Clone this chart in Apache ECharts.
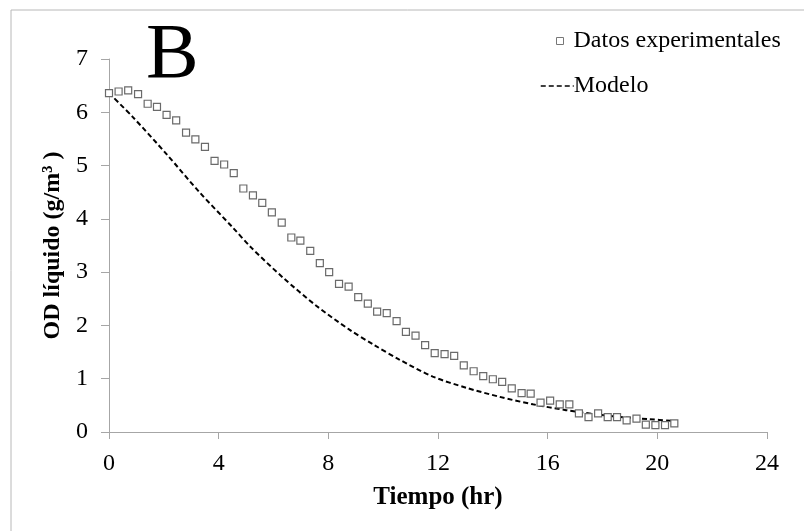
<!DOCTYPE html>
<html>
<head>
<meta charset="utf-8">
<script src="https://cdn.jsdelivr.net/npm/echarts@6/dist/echarts.min.js"></script>
<style>
html,body{margin:0;padding:0;background:#fff;}
#chart{width:804px;height:531px;}
</style>
</head>
<body>
<div id="chart"></div>
<script>
// Experimental data: time (hr) and OD liquid (g/m3)
const expTime = [0, 0.35, 0.70, 1.06, 1.41, 1.75, 2.10, 2.45, 2.81, 3.15,
  3.50, 3.85, 4.20, 4.55, 4.90, 5.25, 5.59, 5.94, 6.30, 6.65,
  6.98, 7.34, 7.69, 8.03, 8.39, 8.74, 9.09, 9.44, 9.78, 10.13,
  10.49, 10.83, 11.18, 11.53, 11.88, 12.24, 12.59, 12.94, 13.30, 13.65,
  14.00, 14.34, 14.69, 15.05, 15.38, 15.74, 16.09, 16.44, 16.79, 17.14,
  17.49, 17.84, 18.19, 18.53, 18.88, 19.24, 19.58, 19.93, 20.28, 20.62];
const expOD = [6.36, 6.39, 6.41, 6.34, 6.16, 6.10, 5.95, 5.85, 5.62, 5.49,
  5.35, 5.09, 5.02, 4.86, 4.57, 4.44, 4.30, 4.12, 3.93, 3.65,
  3.59, 3.40, 3.17, 3.00, 2.78, 2.73, 2.53, 2.41, 2.26, 2.23,
  2.08, 1.88, 1.81, 1.63, 1.48, 1.46, 1.43, 1.25, 1.14, 1.05,
  0.99, 0.94, 0.82, 0.73, 0.72, 0.55, 0.59, 0.52, 0.52, 0.35,
  0.28, 0.35, 0.28, 0.28, 0.22, 0.25, 0.14, 0.13, 0.13, 0.16];
// Model curve
const modelTime = [0, 0.87, 2.09, 3.30, 4.51, 5.19, 6.34, 7.56, 8.77, 9.68,
  10.59, 11.81, 13.03, 14.25, 15.46, 16.67, 17.77, 18.50, 19.71, 20.56];
const modelOD = [6.36, 5.91, 5.22, 4.50, 3.84, 3.46, 2.90, 2.37, 1.92, 1.63,
  1.36, 1.04, 0.83, 0.66, 0.52, 0.41, 0.33, 0.29, 0.24, 0.21];
const xTicks = [0, 4, 8, 12, 16, 20, 24];
const yTicks = [0, 1, 2, 3, 4, 5, 6, 7];
const seriesNames = ['Datos experimentales', 'Modelo'];
const xTitle = 'Tiempo (hr)';
const yTitle = 'OD líquido (g/m³ )';
const panelLabel = 'B';

const FONT = '"Liberation Serif", "Times New Roman", serif';
const axisGray = '#a6a6a6';

const chart = echarts.init(document.getElementById('chart'), null, {renderer: 'canvas'});
chart.setOption({
  backgroundColor: '#ffffff',
  animation: false,
  textStyle: {fontFamily: FONT, color: '#000'},
  grid: {left: 109, right: 37, top: 59, bottom: 99, containLabel: false},
  graphic: [
    {type: 'line', shape: {x1: 11, y1: 10, x2: 804, y2: 10}, style: {stroke: '#b8b8b8', lineWidth: 1}},
    {type: 'line', shape: {x1: 11, y1: 10, x2: 11, y2: 531}, style: {stroke: '#b8b8b8', lineWidth: 1}},
    {type: 'text', left: 146, top: 17, style: {text: panelLabel, font: '79px ' + FONT, fill: '#000'}}
  ],
  legend: [
    {
      data: [seriesNames[0]], left: 551, top: 24, icon: 'rect', itemWidth: 7, itemHeight: 7, itemGap: 0,
      textStyle: {fontFamily: FONT, fontSize: 24, color: '#000', padding: [0, 0, 0, 5]},
      itemStyle: {color: '#fff', borderColor: '#777', borderWidth: 1}
    },
    {
      data: [seriesNames[1]], left: 535, top: 69, itemWidth: 33, itemHeight: 10,
      textStyle: {fontFamily: FONT, fontSize: 24, color: '#000', padding: [0, 0, 0, -5]},
      lineStyle: {color: '#000', width: 1.5, type: [5, 3]},
      itemStyle: {color: 'rgba(0,0,0,0)', borderWidth: 0, opacity: 0}
    }
  ],
  xAxis: {
    type: 'value', min: 0, max: 24, interval: 4,
    name: xTitle, nameLocation: 'middle', nameGap: 53,
    nameTextStyle: {fontFamily: FONT, fontSize: 25, fontWeight: 'bold', color: '#000'},
    axisLine: {show: true, onZero: false, lineStyle: {color: axisGray, width: 1}},
    axisTick: {show: true, length: 7, lineStyle: {color: axisGray}},
    axisLabel: {fontFamily: FONT, fontSize: 24, color: '#000', margin: 20,
      formatter: v => xTicks.includes(v) ? String(v) : ''},
    splitLine: {show: false}
  },
  yAxis: {
    type: 'value', min: 0, max: 7, interval: 1,
    name: yTitle, nameLocation: 'middle', nameGap: 41, nameRotate: 90,
    nameTextStyle: {fontFamily: FONT, fontSize: 24, fontWeight: 'bold', color: '#000'},
    axisLine: {show: true, lineStyle: {color: axisGray, width: 1}},
    axisTick: {show: true, length: 8, lineStyle: {color: axisGray}},
    axisLabel: {fontFamily: FONT, fontSize: 24, color: '#000', margin: 21,
      formatter: v => yTicks.includes(v) ? String(v) : ''},
    splitLine: {show: false}
  },
  series: [
    {
      name: seriesNames[1], type: 'line', smooth: 0.3, symbol: 'none', z: 2,
      data: modelTime.map((t, i) => [t, modelOD[i]]),
      lineStyle: {color: '#000', width: 2, type: [5, 3]},
      itemStyle: {color: '#000'}
    },
    {
      name: seriesNames[0], type: 'scatter', symbol: 'rect', symbolSize: 7, z: 3,
      data: expTime.map((t, i) => [t, expOD[i]]),
      itemStyle: {color: '#fff', borderColor: '#6a6a6a', borderWidth: 1.2, opacity: 1}
    }
  ]
});
</script>
</body>
</html>
